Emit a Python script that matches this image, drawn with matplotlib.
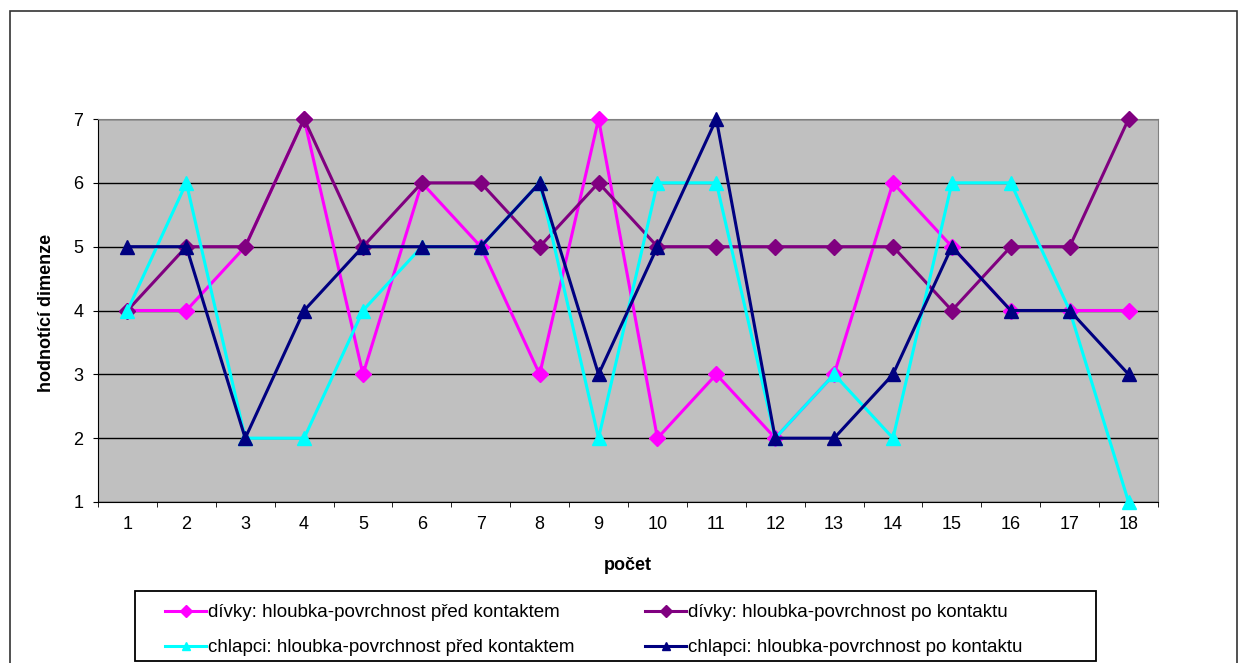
import matplotlib
matplotlib.use("Agg")
import matplotlib.pyplot as plt
from matplotlib.patches import Rectangle

plt.rcParams['font.family'] = ['Liberation Sans', 'DejaVu Sans']

x = list(range(1, 19))
divky_pred = [4, 4, 5, 7, 3, 6, 5, 3, 7, 2, 3, 2, 3, 6, 5, 4, 4, 4]
divky_po = [4, 5, 5, 7, 5, 6, 6, 5, 6, 5, 5, 5, 5, 5, 4, 5, 5, 7]
chlapci_pred = [4, 6, 2, 2, 4, 5, 5, 6, 2, 6, 6, 2, 3, 2, 6, 6, 4, 1]
chlapci_po = [5, 5, 2, 4, 5, 5, 5, 6, 3, 5, 7, 2, 2, 3, 5, 4, 4, 3]
labels = ["dívky: hloubka-povrchnost před kontaktem",
          "dívky: hloubka-povrchnost po kontaktu",
          "chlapci: hloubka-povrchnost před kontaktem",
          "chlapci: hloubka-povrchnost po kontaktu"]
yticks = [1, 2, 3, 4, 5, 6, 7]

W, H = 1239, 663
FS = 13
fig = plt.figure(figsize=(W/100, H/100), dpi=100)
ax = fig.add_axes([98/W, (H-502)/H, (1158-98)/W, (502-119)/H])
ax.set_facecolor('#C0C0C0')

series = [(divky_pred, '#FF00FF', 'D'), (divky_po, '#800080', 'D'),
          (chlapci_pred, '#00FFFF', '^'), (chlapci_po, '#000080', '^')]
handles = []
for (vals, col, mk), lab in zip(series, labels):
    h, = ax.plot(x, vals, color=col, marker=mk, lw=2.2,
                 ms=8.5 if mk == 'D' else 9.5, label=lab, clip_on=False, zorder=3)
    handles.append(h)

ax.set_xlim(0.5, 18.5)
ax.set_ylim(1, 7)
ax.set_yticks(yticks)
ax.set_xticks(x)
ax.set_xticks([i + 0.5 for i in range(0, 19)], minor=True)
ax.tick_params(axis='x', which='major', length=0, pad=10, labelsize=FS)
ax.tick_params(axis='x', which='minor', length=3.6, direction='out')
ax.tick_params(axis='y', length=3.6, direction='out', labelsize=FS, pad=7)
ax.yaxis.grid(True, color='black', lw=1)
ax.set_axisbelow(True)
for s in ['top', 'right']:
    ax.spines[s].set_color('#808080')
for s in ['left', 'bottom']:
    ax.spines[s].set_color('black')

fig.text(47/W, (H-313)/H, 'hodnotící dimenze', rotation=90, ha='center', va='center',
         fontsize=FS, fontweight='bold')
fig.text(628/W, (H-566)/H, 'počet', ha='center', va='center', fontsize=FS, fontweight='bold')

# legend frame
fig.patches.append(Rectangle((135/W, (H-661)/H), (1096-135)/W, (661-591)/H,
                             transform=fig.transFigure, fill=False,
                             edgecolor='black', lw=1.3, zorder=5))
legkw = dict(loc='upper left', frameon=False, fontsize=13.5, handlelength=2.2,
             handletextpad=0.1, borderpad=0, borderaxespad=0, labelspacing=0.95)
for idx, xl in [((0, 2), 165), ((1, 3), 645)]:
    lg = fig.legend(handles=[handles[i] for i in idx], bbox_to_anchor=(xl/W, (H-604)/H), **legkw)
    for lh in lg.legend_handles:
        lh.set_markersize(6)

fig.patches.append(Rectangle((10/W, -0.02), (1237-10)/W, (H-11)/H + 0.02,
                             transform=fig.transFigure, fill=False,
                             edgecolor='#333333', lw=1.2))

fig.savefig('out.png', dpi=100)
